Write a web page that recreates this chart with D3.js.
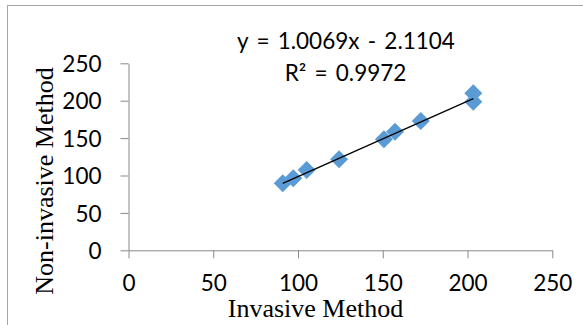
<!DOCTYPE html>
<html>
<head>
<meta charset="utf-8">
<script src="https://cdn.jsdelivr.net/npm/d3@7"></script>
<style>
  html, body { margin: 0; padding: 0; background: #fff; }
  svg { display: block; }
</style>
</head>
<body>
<svg id="chart" width="583" height="325"></svg>
<script>
// ---- data ----
const invasive    = [91.0, 97.2, 105.1, 124.2, 150.7, 157.2, 172.4, 203.4, 203.4];
const nonInvasive = [89.6, 96.3, 107.4, 121.7, 148.4, 158.6, 172.9, 209.9, 198.7];
const xTicks = [0, 50, 100, 150, 200, 250];
const yTicks = [0, 50, 100, 150, 200, 250];
const slope = 1.0069;
const intercept = -2.1104;
const equationLabel = "y = 1.0069x - 2.1104";
const r2Label = "R\u00B2 = 0.9972";
const xTitle = "Invasive Method";
const yTitle = "Non-invasive Method";

const points = invasive.map((x, i) => ({ x: x, y: nonInvasive[i] }));

const svg = d3.select("#chart");

// chart border
svg.append("rect")
  .attr("x", 7.5).attr("y", 5.5)
  .attr("width", 700).attr("height", 500)
  .attr("fill", "none")
  .attr("stroke", "#a6a6a6")
  .attr("stroke-width", 1);

const x = d3.scaleLinear().domain([0, 250]).range([128.5, 552.3]);
const y = d3.scaleLinear().domain([0, 250]).range([250.3, 63.3]);

const axisColor = "#898989";
const tickFont = "Lato, 'Open Sans', sans-serif";

// x axis
const gx = svg.append("g")
  .attr("transform", `translate(0,${y(0)})`)
  .call(d3.axisBottom(x).tickValues(xTicks).tickSize(8).tickSizeOuter(0).tickFormat(d3.format("d")));
gx.select(".domain").attr("stroke", axisColor);
gx.selectAll(".tick line").attr("stroke", axisColor);
gx.selectAll(".tick text")
  .attr("y", 41).attr("dy", null)
  .attr("fill", "#000")
  .style("font-family", tickFont).style("font-size", "22.5px");

// y axis
const gy = svg.append("g")
  .attr("transform", `translate(${x(0)},0)`)
  .call(d3.axisLeft(y).tickValues(yTicks).tickSize(8).tickSizeOuter(0).tickFormat(d3.format("d")));
gy.select(".domain").attr("stroke", axisColor);
gy.selectAll(".tick line").attr("stroke", axisColor);
gy.selectAll(".tick text")
  .attr("x", -27).attr("dy", "0.36em")
  .attr("fill", "#000")
  .style("font-family", tickFont).style("font-size", "22.5px");

// markers
const half = 9;
svg.append("g").selectAll("path")
  .data(points)
  .join("path")
  .attr("d", d => {
    const cx = x(d.x), cy = y(d.y);
    return `M${cx},${cy - half}L${cx + half},${cy}L${cx},${cy + half}L${cx - half},${cy}Z`;
  })
  .attr("fill", "#5B9BD5");

// trendline
const xMin = d3.min(invasive), xMax = d3.max(invasive);
svg.append("line")
  .attr("x1", x(xMin)).attr("y1", y(slope * xMin + intercept))
  .attr("x2", x(xMax)).attr("y2", y(slope * xMax + intercept))
  .attr("stroke", "#000")
  .attr("stroke-width", 1.3);

// equation labels
svg.append("text")
  .attr("x", 346).attr("y", 49.3)
  .attr("text-anchor", "middle")
  .style("font-family", tickFont).style("font-size", "22.5px")
  .style("word-spacing", "2.5px")
  .text(equationLabel);
svg.append("text")
  .attr("x", 345.5).attr("y", 81)
  .attr("text-anchor", "middle")
  .style("font-family", tickFont).style("font-size", "22.5px")
  .style("word-spacing", "2.5px")
  .text(r2Label);

// axis titles
svg.append("text")
  .attr("x", 315.5).attr("y", 317)
  .attr("text-anchor", "middle")
  .style("font-family", "'Liberation Serif', 'Times New Roman', serif")
  .style("font-size", "26px")
  .text(xTitle);
svg.append("text")
  .attr("transform", "translate(53,181) rotate(-90)")
  .attr("text-anchor", "middle")
  .style("font-family", "'Liberation Serif', 'Times New Roman', serif")
  .style("font-size", "26px")
  .text(yTitle);
</script>
</body>
</html>
